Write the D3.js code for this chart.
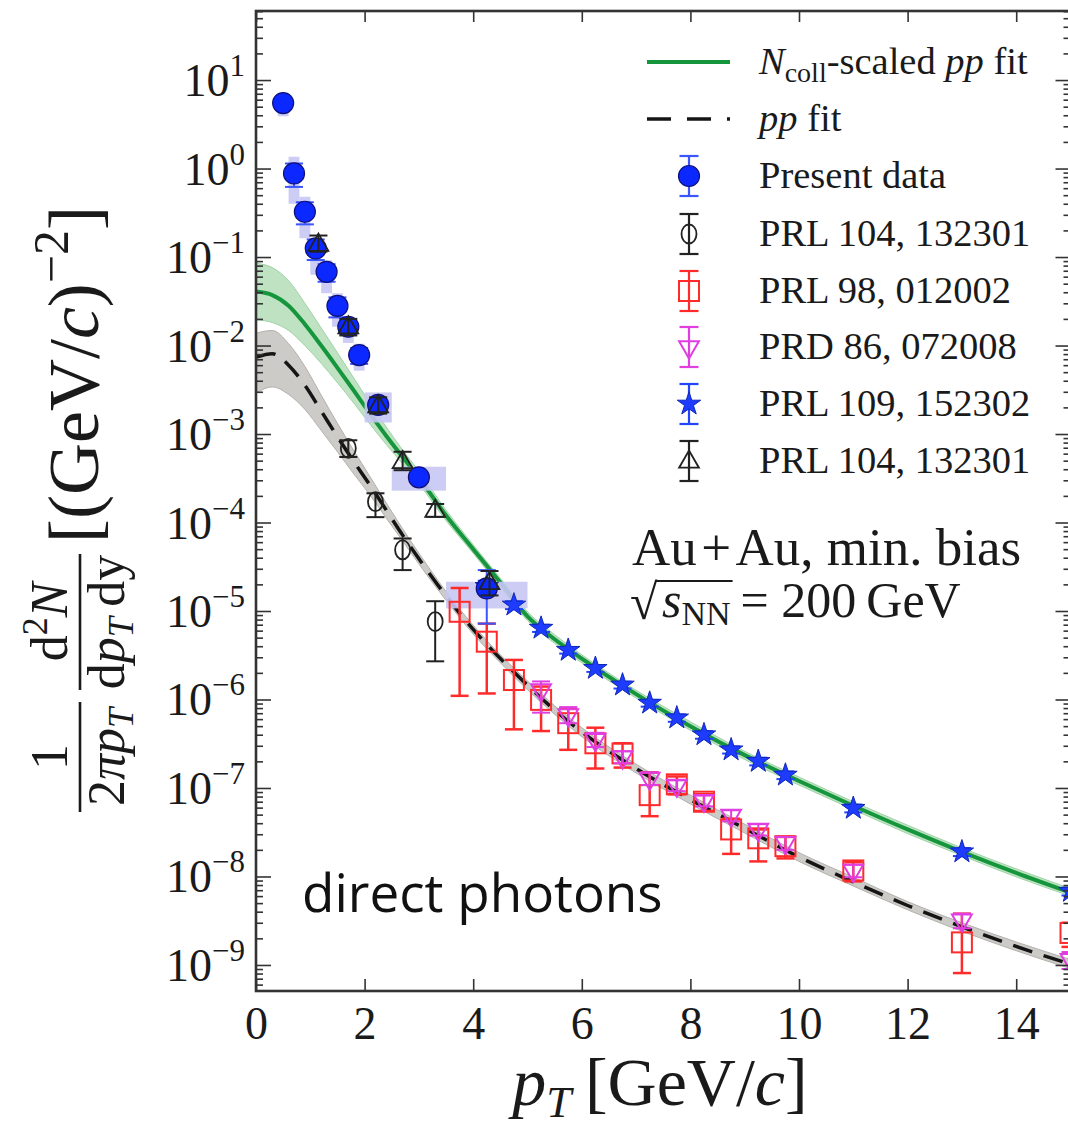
<!DOCTYPE html>
<html>
<head>
<meta charset="utf-8">
<script src="https://cdn.jsdelivr.net/npm/d3@7"></script>
<style>
  body { margin: 0; background: #fff; }
  svg { display: block; }
</style>
</head>
<body>
<svg id="chart" width="1068" height="1128"></svg>
<script>
// ---------- data ----------
// fit curves, sampled in pT [GeV/c]
const fitPt   = [0, 0.3, 0.6, 0.9, 1.2, 1.5, 1.8, 2.1, 2.4, 2.7, 3.0, 3.5, 4.0, 4.5, 5.0, 5.5, 6.0, 7.0, 8.0, 9.0, 10.0, 11.0, 12.0, 13.0, 14.0, 15.0];
const ncollFit   = [4.07e-2, 3.72e-2, 2.82e-2, 1.74e-2, 1.00e-2, 5.6e-3, 3.1e-3, 1.70e-3, 9.5e-4, 5.5e-4, 3.2e-4, 1.20e-4, 5.0e-5, 2.1e-5, 8.7e-6, 4.8e-6, 2.9e-6, 1.15e-6, 5.0e-7, 2.35e-7, 1.20e-7, 6.3e-8, 3.4e-8, 1.9e-8, 1.1e-8, 6.6e-9];
const ncollFitHi = [8.5e-2, 7.6e-2, 5.4e-2, 3.0e-2, 1.58e-2, 8.3e-3, 4.3e-3, 2.24e-3, 1.20e-3, 6.6e-4, 3.8e-4, 1.38e-4, 5.6e-5, 2.34e-5, 9.8e-6, 5.4e-6, 3.2e-6, 1.27e-6, 5.6e-7, 2.6e-7, 1.33e-7, 7.0e-8, 3.8e-8, 2.1e-8, 1.22e-8, 7.3e-9];
const ncollFitLo = [1.95e-2, 1.82e-2, 1.48e-2, 1.0e-2, 6.3e-3, 3.8e-3, 2.24e-3, 1.29e-3, 7.6e-4, 4.6e-4, 2.75e-4, 1.05e-4, 4.5e-5, 1.86e-5, 7.8e-6, 4.3e-6, 2.6e-6, 1.04e-6, 4.5e-7, 2.1e-7, 1.08e-7, 5.7e-8, 3.05e-8, 1.72e-8, 9.9e-9, 6.0e-9];
const ppFit   = [7.4e-3, 8.1e-3, 6.0e-3, 3.55e-3, 1.82e-3, 9.3e-4, 4.9e-4, 2.63e-4, 1.38e-4, 7.2e-5, 3.9e-5, 1.48e-5, 6.2e-6, 2.9e-6, 1.45e-6, 7.6e-7, 4.3e-7, 1.66e-7, 7.4e-8, 3.5e-8, 1.66e-8, 8.7e-9, 4.7e-9, 2.7e-9, 1.62e-9, 1.02e-9];
const ppFitHi = [1.38e-2, 1.48e-2, 1.05e-2, 5.8e-3, 2.75e-3, 1.32e-3, 6.5e-4, 3.3e-4, 1.66e-4, 8.5e-5, 4.5e-5, 1.66e-5, 6.9e-6, 3.2e-6, 1.62e-6, 8.5e-7, 4.8e-7, 1.86e-7, 8.3e-8, 3.9e-8, 1.86e-8, 9.8e-9, 5.2e-9, 3.0e-9, 1.82e-9, 1.15e-9];
const ppFitLo = [2.9e-3, 3.4e-3, 2.8e-3, 1.9e-3, 1.10e-3, 6.3e-4, 3.55e-4, 2.04e-4, 1.12e-4, 6.2e-5, 3.4e-5, 1.32e-5, 5.5e-6, 2.6e-6, 1.29e-6, 6.8e-7, 3.8e-7, 1.48e-7, 6.6e-8, 3.1e-8, 1.48e-8, 7.8e-9, 4.2e-9, 2.4e-9, 1.45e-9, 9.1e-10];

// present data (Au+Au min. bias), with statistical errors and systematic boxes
const presPt    = [0.5, 0.7, 0.9, 1.1, 1.3, 1.5, 1.7, 1.9, 2.25, 3.0, 4.25];
const presY     = [5.5, 0.88, 0.325, 0.125, 0.068, 0.028, 0.0163, 0.0078, 0.00213, 3.24e-4, 1.8e-5];
const presLo    = [4.9, 0.62, 0.234, 0.0925, 0.0526, 0.0208, 0.0135, 0.0062, 0.0018, 2.9e-4, 7.2e-6];
const presHi    = [6.1, 1.14, 0.416, 0.158, 0.083, 0.035, 0.019, 0.0094, 0.0025, 3.6e-4, 2.9e-5];
const presSysLo = [3.9, 0.40, 0.163, 0.063, 0.039, 0.0163, 0.0107, 0.0052, 0.00135, 2.29e-4, 1.07e-5];
const presSysHi = [7.0, 1.36, 0.48, 0.156, 0.092, 0.039, 0.021, 0.0105, 0.00295, 4.27e-4, 2.14e-5];
const presBinHalf = [0.1, 0.1, 0.1, 0.1, 0.1, 0.1, 0.1, 0.1, 0.25, 0.5, 0.75];

// PRL 104, 132301 (open circles)
const prl104aPt = [1.7, 2.2, 2.7, 3.3];
const prl104aY  = [6.9e-4, 1.72e-4, 4.9e-5, 7.6e-6];
const prl104aLo = [5.5e-4, 1.15e-4, 2.9e-5, 2.7e-6];
const prl104aHi = [8.5e-4, 2.14e-4, 6.6e-5, 1.29e-5];

// PRL 98, 012002 (open squares)
const prl98Pt = [3.75, 4.25, 4.75, 5.25, 5.75, 6.25, 6.75, 7.25, 7.75, 8.25, 8.75, 9.25, 9.75, 11, 13, 15];
const prl98Y  = [9.8e-6, 4.5e-6, 1.66e-6, 9.9e-7, 5.4e-7, 3.2e-7, 2.46e-7, 8.3e-8, 1.1e-7, 7.0e-8, 3.4e-8, 2.7e-8, 2.2e-8, 1.17e-8, 1.8e-9, 2.3e-9];
const prl98Lo = [1.1e-6, 1.17e-6, 4.6e-7, 4.4e-7, 2.7e-7, 1.66e-7, 1.7e-7, 4.8e-8, 8.5e-8, 5.5e-8, 1.8e-8, 1.48e-8, 1.6e-8, 8.8e-9, 8.1e-10, 1.6e-9];
const prl98Hi = [1.82e-5, 7.2e-6, 2.8e-6, 1.4e-6, 8.0e-7, 4.8e-7, 3.2e-7, 1.5e-7, 1.35e-7, 8.5e-8, 4.5e-8, 3.4e-8, 2.8e-8, 1.45e-8, 3.8e-9, 3.0e-9];

// PRD 86, 072008 (open down-triangles)
const prd86Pt = [5.25, 5.75, 6.25, 6.75, 7.25, 7.75, 8.25, 8.75, 9.25, 9.75, 11, 13, 15];
const prd86Y  = [1.28e-6, 6.7e-7, 3.5e-7, 2.24e-7, 1.28e-7, 1.07e-7, 7.2e-8, 4.9e-8, 3.4e-8, 2.4e-8, 1.17e-8, 3.2e-9, 1.15e-9];
const prd86Lo = [7.1e-7, 5.4e-7, 2.9e-7, 1.9e-7, 1.08e-7, 9.2e-8, 6.2e-8, 4.2e-8, 2.9e-8, 2.0e-8, 9.8e-9, 2.6e-9, 9.0e-10];
const prd86Hi = [1.6e-6, 8.2e-7, 4.2e-7, 2.6e-7, 1.5e-7, 1.22e-7, 8.2e-8, 5.6e-8, 3.9e-8, 2.8e-8, 1.36e-8, 3.8e-9, 1.4e-9];

// PRL 109, 152302 (stars)
const prl109Pt = [4.25, 4.75, 5.25, 5.75, 6.25, 6.75, 7.25, 7.75, 8.25, 8.75, 9.25, 9.75, 11, 13, 15];
const prl109Y  = [1.9e-5, 1.17e-5, 6.4e-6, 3.6e-6, 2.25e-6, 1.46e-6, 9.1e-7, 6.2e-7, 4.0e-7, 2.7e-7, 2.0e-7, 1.4e-7, 5.9e-8, 1.9e-8, 6.8e-9];
const prl109Lo = [1.6e-5, 1.05e-5, 5.8e-6, 3.3e-6, 2.05e-6, 1.33e-6, 8.3e-7, 5.6e-7, 3.6e-7, 2.45e-7, 1.8e-7, 1.26e-7, 5.3e-8, 1.7e-8, 6.1e-9];
const prl109Hi = [2.2e-5, 1.29e-5, 7.0e-6, 3.9e-6, 2.45e-6, 1.59e-6, 9.9e-7, 6.8e-7, 4.4e-7, 2.95e-7, 2.2e-7, 1.54e-7, 6.5e-8, 2.1e-8, 7.5e-9];

// PRL 104, 132301 (open up-triangles)
const prl104bPt = [1.15, 1.7, 2.25, 2.7, 3.3, 4.3];
const prl104bY  = [0.14, 0.0163, 0.0021, 4.9e-4, 1.38e-4, 2.1e-5];
const prl104bLo = [0.115, 0.013, 0.0017, 3.9e-4, 1.16e-4, 1.5e-5];
const prl104bHi = [0.175, 0.020, 0.0026, 6.3e-4, 1.62e-4, 2.83e-5];

// axis ticks
const xTicks = [0, 2, 4, 6, 8, 10, 12, 14];
const yDecades = [-9, -8, -7, -6, -5, -4, -3, -2, -1, 0, 1];

const legendLabels = ["Present data", "PRL 104, 132301", "PRL 98, 012002", "PRD 86, 072008", "PRL 109, 152302", "PRL 104, 132301"];

// ---------- layout ----------
const SERIF = "'Liberation Serif', 'Times New Roman', serif";
const plot = { left: 256, right: 1070.5, top: 11, bottom: 991 };

const svg = d3.select("#chart");
const x = d3.scaleLinear().domain([0, 15]).range([plot.left, plot.right]);
const y = d3.scaleLog().domain([5.08e-10, 60.3]).range([plot.bottom, plot.top]);

const zip = (pts, ...cols) => pts.map((p, i) => [p, ...cols.map(c => c[i])]);

svg.append("defs").append("clipPath").attr("id", "plotClip")
  .append("rect")
  .attr("x", plot.left).attr("y", plot.top)
  .attr("width", plot.right - plot.left).attr("height", plot.bottom - plot.top);

const g = svg.append("g").attr("clip-path", "url(#plotClip)");

// ---------- fit bands and curves ----------
const band = d3.area()
  .x(d => x(d[0])).y0(d => y(d[1])).y1(d => y(d[2]))
  .curve(d3.curveMonotoneX);
const line = d3.line()
  .x(d => x(d[0])).y(d => y(d[1]))
  .curve(d3.curveMonotoneX);

g.append("path").datum(zip(fitPt, ncollFitLo, ncollFitHi))
  .attr("d", band).attr("fill", "#bfe3c2").attr("stroke", "#9fd3a6").attr("stroke-width", 1);
g.append("path").datum(zip(fitPt, ppFitLo, ppFitHi))
  .attr("d", band).attr("fill", "#cdcbc8").attr("stroke", "#b3b0ac").attr("stroke-width", 1);

g.append("path").datum(zip(fitPt, ncollFit))
  .attr("d", line).attr("fill", "none").attr("stroke", "#16963c").attr("stroke-width", 4);
g.append("path").datum(zip(fitPt, ppFit))
  .attr("d", line).attr("fill", "none").attr("stroke", "#151515")
  .attr("stroke-width", 3.5).attr("stroke-dasharray", "20,12");

// ---------- systematic boxes of present data ----------
g.append("g").selectAll("rect")
  .data(zip(presPt, presSysLo, presSysHi, presBinHalf))
  .join("rect")
  .attr("x", d => x(d[0] - d[3]))
  .attr("width", d => x(d[0] + d[3]) - x(d[0] - d[3]))
  .attr("y", d => y(d[2]))
  .attr("height", d => y(d[1]) - y(d[2]))
  .attr("fill", "#c6c6f3").attr("opacity", 0.9);

// ---------- marker helpers ----------
function errorBars(sel, rows, color, width) {
  const eg = sel.append("g").attr("stroke", color).attr("stroke-width", width).attr("fill", "none");
  rows.forEach(d => {
    const cx = x(d[0]), ylo = y(d[2]), yhi = y(d[3]);
    eg.append("line").attr("x1", cx).attr("x2", cx).attr("y1", ylo).attr("y2", yhi);
    eg.append("line").attr("x1", cx - 9).attr("x2", cx + 9).attr("y1", ylo).attr("y2", ylo);
    eg.append("line").attr("x1", cx - 9).attr("x2", cx + 9).attr("y1", yhi).attr("y2", yhi);
  });
}

const markers = {
  present: (s) => s.append("circle").attr("r", 10.5).attr("fill", "#0a28ff").attr("stroke", "#10107a").attr("stroke-width", 1.2),
  openCircle: (s) => s.append("ellipse").attr("rx", 7.5).attr("ry", 9.5).attr("fill", "none").attr("stroke", "#222").attr("stroke-width", 1.8),
  square: (s) => s.append("rect").attr("x", -10).attr("y", -10).attr("width", 20).attr("height", 20).attr("fill", "none").attr("stroke", "#ff2b2b").attr("stroke-width", 2),
  downTri: (s) => s.append("path").attr("d", d3.symbol(d3.symbolTriangle, 170)()).attr("transform", "rotate(180)").attr("fill", "none").attr("stroke", "#e03ee0").attr("stroke-width", 2),
  star: (s) => s.append("path").attr("d", d3.symbol(d3.symbolStar, 170)()).attr("fill", "#1d3cff").attr("stroke", "#1228b8").attr("stroke-width", 1),
  upTri: (s) => s.append("path").attr("d", d3.symbol(d3.symbolTriangle, 170)()).attr("transform", "translate(0,1)").attr("fill", "none").attr("stroke", "#222").attr("stroke-width", 1.8)
};

function drawSeries(rows, marker, color, width) {
  const sg = g.append("g");
  errorBars(sg, rows, color, width);
  sg.selectAll("g.pt").data(rows).join("g").attr("class", "pt")
    .attr("transform", d => `translate(${x(d[0])},${y(d[1])})`)
    .each(function () { marker(d3.select(this)); });
}

drawSeries(zip(prl98Pt, prl98Y, prl98Lo, prl98Hi), markers.square, "#ff2b2b", 2.5);
drawSeries(zip(prd86Pt, prd86Y, prd86Lo, prd86Hi), markers.downTri, "#e03ee0", 2);
drawSeries(zip(prl109Pt, prl109Y, prl109Lo, prl109Hi), markers.star, "#2244ff", 2);
drawSeries(zip(prl104aPt, prl104aY, prl104aLo, prl104aHi), markers.openCircle, "#222", 2);
drawSeries(zip(presPt, presY, presLo, presHi), markers.present, "#3b55ff", 2);
drawSeries(zip(prl104bPt, prl104bY, prl104bLo, prl104bHi), markers.upTri, "#222", 2);

// ---------- axes ----------
const majorVals = yDecades.map(e => Math.pow(10, e));
const minorVals = [];
for (let e = -10; e <= 1; e++) for (let m = 2; m <= 9; m++) {
  const v = m * Math.pow(10, e);
  if (v > y.domain()[0] && v < y.domain()[1]) minorVals.push(v);
}

function styleAxis(a) {
  a.select(".domain").remove();
  a.selectAll(".tick line").attr("stroke", "#333").attr("stroke-width", 1.6);
}

svg.append("g").attr("transform", `translate(${plot.left},0)`)
  .call(d3.axisLeft(y).tickValues(majorVals).tickSize(-15).tickFormat(""))
  .call(styleAxis);
svg.append("g").attr("transform", `translate(${plot.left},0)`)
  .call(d3.axisLeft(y).tickValues(minorVals).tickSize(-7).tickFormat(""))
  .call(styleAxis);
svg.append("g").attr("transform", `translate(${plot.right},0)`)
  .call(d3.axisRight(y).tickValues(majorVals).tickSize(-15).tickFormat(""))
  .call(styleAxis);
svg.append("g").attr("transform", `translate(${plot.right},0)`)
  .call(d3.axisRight(y).tickValues(minorVals).tickSize(-7).tickFormat(""))
  .call(styleAxis);
svg.append("g").attr("transform", `translate(0,${plot.top})`)
  .call(d3.axisTop(x).tickValues(xTicks).tickSize(-11).tickFormat(""))
  .call(styleAxis);

const xAxis = svg.append("g").attr("transform", `translate(0,${plot.bottom})`)
  .call(d3.axisBottom(x).tickValues(xTicks).tickSize(-12).tickPadding(15).tickFormat(d3.format("d")))
  .call(styleAxis);
xAxis.selectAll("text")
  .attr("font-family", SERIF).attr("font-size", 46).attr("fill", "#1a1a1a");

// y tick labels as 10 with superscript exponent
const yLab = svg.append("g").attr("font-family", SERIF).attr("fill", "#1a1a1a");
yDecades.forEach(e => {
  const t = yLab.append("text")
    .attr("x", 245).attr("y", y(Math.pow(10, e)) + 16)
    .attr("text-anchor", "end").attr("font-size", 46);
  t.append("tspan").text("10");
  t.append("tspan").attr("font-size", 31).attr("dy", -20)
    .text(e < 0 ? "\u2212" + (-e) : String(e));
});

// frame
svg.append("rect")
  .attr("x", plot.left).attr("y", plot.top)
  .attr("width", plot.right - plot.left).attr("height", plot.bottom - plot.top)
  .attr("fill", "none").attr("stroke", "#333").attr("stroke-width", 2.6);

// ---------- axis titles ----------
const xt = svg.append("text")
  .attr("x", 660).attr("y", 1105).attr("text-anchor", "middle")
  .attr("font-family", SERIF).attr("font-size", 68).attr("fill", "#1a1a1a");
xt.append("tspan").attr("font-style", "italic").text("p");
xt.append("tspan").attr("font-style", "italic").attr("font-size", 45).attr("dy", 12).text("T");
xt.append("tspan").attr("dy", -12).text("\u2009[GeV/");
xt.append("tspan").attr("font-style", "italic").text("c");
xt.append("tspan").text("]");

// rotated y title: local (lx, ly) maps to page (ly, -lx)
const yt = svg.append("g").attr("transform", "rotate(-90)")
  .attr("font-family", SERIF).attr("fill", "#1a1a1a");

function fraction(center, half, fs, num, den) {
  yt.append("line").attr("x1", -center - half).attr("x2", -center + half)
    .attr("y1", 80).attr("y2", 80).attr("stroke", "#1a1a1a").attr("stroke-width", 2.6);
  const n = yt.append("text").attr("x", -center).attr("y", 67).attr("text-anchor", "middle").attr("font-size", fs);
  num(n);
  const d = yt.append("text").attr("x", -center).attr("y", 124).attr("text-anchor", "middle").attr("font-size", fs);
  den(d);
}
fraction(757, 55, 52,
  t => t.text("1"),
  t => {
    t.append("tspan").text("2");
    t.append("tspan").attr("font-style", "italic").text("\u03c0p");
    t.append("tspan").attr("font-style", "italic").attr("font-size", 36).attr("dy", 9).text("T");
  });
fraction(622, 68, 52,
  t => {
    t.append("tspan").text("d");
    t.append("tspan").attr("font-size", 36).attr("dy", -20).text("2");
    t.append("tspan").attr("font-style", "italic").attr("dy", 20).text("N");
  },
  t => {
    t.append("tspan").text("d");
    t.append("tspan").attr("font-style", "italic").text("p");
    t.append("tspan").attr("font-style", "italic").attr("font-size", 36).attr("dy", 9).text("T");
    t.append("tspan").attr("dy", -9).text("\u2009dy");
  });
const unit = yt.append("text").attr("x", -543).attr("y", 98).attr("font-size", 72);
unit.append("tspan").text("[(GeV/");
unit.append("tspan").attr("font-style", "italic").text("c");
unit.append("tspan").text(")");
unit.append("tspan").attr("font-size", 50).attr("dy", -30).text("\u22122");
unit.append("tspan").attr("dy", 30).text("]");

// ---------- legend ----------
const legend = svg.append("g").attr("font-family", SERIF).attr("fill", "#1a1a1a");
const rowY = [62, 119, 176, 234, 291, 347, 404, 461];
const mx = 689, tx = 759, lfs = 38.5;

legend.append("line").attr("x1", 647).attr("x2", 730).attr("y1", rowY[0]).attr("y2", rowY[0])
  .attr("stroke", "#16963c").attr("stroke-width", 4);
legend.append("line").attr("x1", 647).attr("x2", 730).attr("y1", rowY[1]).attr("y2", rowY[1])
  .attr("stroke", "#151515").attr("stroke-width", 3.5).attr("stroke-dasharray", "24,16");

const t0 = legend.append("text").attr("x", tx).attr("y", rowY[0] + 12).attr("font-size", lfs);
t0.append("tspan").attr("font-style", "italic").text("N");
t0.append("tspan").attr("font-size", 28).attr("dy", 8).text("coll");
t0.append("tspan").attr("dy", -8).text("-scaled ");
t0.append("tspan").attr("font-style", "italic").text("pp");
t0.append("tspan").text(" fit");
const t1 = legend.append("text").attr("x", tx).attr("y", rowY[1] + 12).attr("font-size", lfs);
t1.append("tspan").attr("font-style", "italic").text("pp");
t1.append("tspan").text(" fit");

const legendMarkers = [
  [markers.present, "#3b55ff"],
  [markers.openCircle, "#222"],
  [markers.square, "#ff2b2b"],
  [markers.downTri, "#e03ee0"],
  [markers.star, "#2244ff"],
  [markers.upTri, "#222"]
];
legendLabels.forEach((lab, i) => {
  const cy = rowY[i + 2];
  const [mk, col] = legendMarkers[i];
  const lg = legend.append("g").attr("stroke", col).attr("stroke-width", 2.2);
  lg.append("line").attr("x1", mx).attr("x2", mx).attr("y1", cy - 20).attr("y2", cy + 20);
  lg.append("line").attr("x1", mx - 9.5).attr("x2", mx + 9.5).attr("y1", cy - 20).attr("y2", cy - 20);
  lg.append("line").attr("x1", mx - 9.5).attr("x2", mx + 9.5).attr("y1", cy + 20).attr("y2", cy + 20);
  mk(legend.append("g").attr("transform", `translate(${mx},${cy})`));
  legend.append("text").attr("x", tx).attr("y", cy + 12).attr("font-size", lfs).text(lab);
});

// ---------- annotations ----------
const ann = svg.append("g").attr("font-family", SERIF).attr("fill", "#1a1a1a");
ann.append("text").attr("x", 632).attr("y", 565).attr("font-size", 53).text("Au\u200a+\u200aAu, min. bias");
ann.append("text").attr("x", 630).attr("y", 619).attr("font-size", 50).text("\u221a");
const sNN = ann.append("text").attr("x", 662).attr("y", 617).attr("font-size", 50);
sNN.append("tspan").attr("font-style", "italic").text("s");
sNN.append("tspan").attr("font-size", 34).attr("dy", 8).text("NN");
const sw = sNN.node().getComputedTextLength();
ann.append("line").attr("x1", 656).attr("x2", 662 + sw + 2).attr("y1", 581).attr("y2", 581)
  .attr("stroke", "#1a1a1a").attr("stroke-width", 2.2);
ann.append("text").attr("x", 662 + sw + 10).attr("y", 617).attr("font-size", 50).text("= 200\u2009GeV");

svg.append("text").attr("x", 302).attr("y", 912)
  .attr("font-family", "'Open Sans', 'Noto Sans', sans-serif").attr("font-size", 53)
  .attr("fill", "#111").text("direct photons");
</script>
</body>
</html>
